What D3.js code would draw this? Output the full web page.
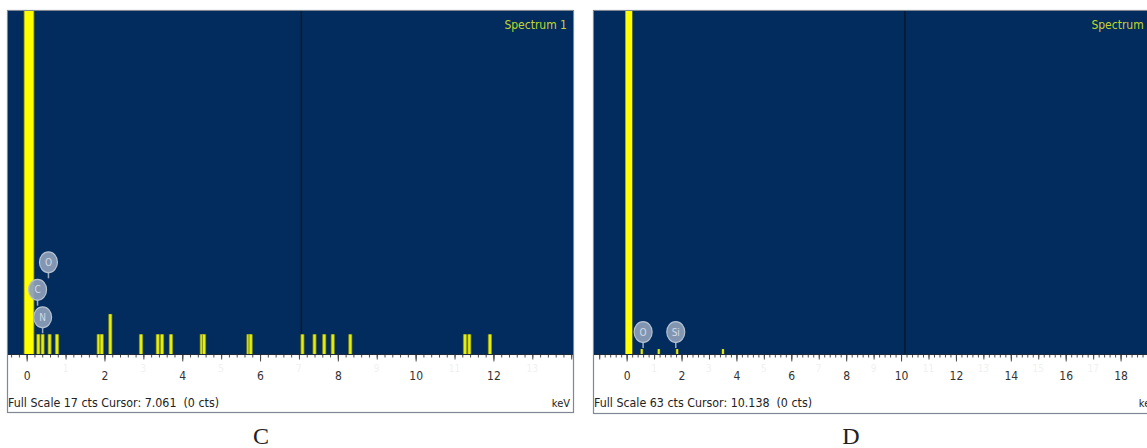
<!DOCTYPE html>
<html>
<head>
<meta charset="utf-8">
<script src="https://cdn.jsdelivr.net/npm/d3@7"></script>
<style>
  body { margin: 0; background: #fff; }
  svg { display: block; }
</style>
</head>
<body>
<div id="chart"></div>
<script>
// Panel C spectrum
const cFullScale = 17;
const cCursor = 7.061;
const cPeakEnergies = [0.06, 0.30, 0.41, 0.59, 0.78, 1.85, 1.93, 2.15, 2.94, 3.37, 3.48, 3.71,
  4.50, 4.56, 5.70, 5.76, 7.09, 7.40, 7.65, 7.87, 8.32, 11.27, 11.38, 11.91];
const cPeakCounts = [60, 1, 1, 1, 1, 1, 1, 2, 1, 1, 1, 1, 1, 1, 1, 1, 1, 1, 1, 1, 1, 1, 1, 1];
const cElements = ["N", "C", "O"];
const cElementEnergies = [0.41, 0.28, 0.56];
const cTickLabels = [0, 2, 4, 6, 8, 10, 12];

// Panel D spectrum
const dFullScale = 63;
const dCursor = 10.138;
const dPeakEnergies = [0.08, 0.55, 1.17, 1.84, 3.51];
const dPeakCounts = [90, 1, 1, 1, 1];
const dElements = ["O", "Si"];
const dElementEnergies = [0.60, 1.79];
const dTickLabels = [0, 2, 4, 6, 8, 10, 12, 14, 16, 18];

const width = 1147;
const height = 448;
const plotTop = 11;
const baseline = 354.5;

const svg = d3.select("#chart")
  .append("svg")
  .attr("width", width)
  .attr("height", height);

const defs = svg.append("defs");

const peakGrad = defs.append("linearGradient")
  .attr("id", "peak-grad")
  .attr("x1", "0").attr("x2", "1").attr("y1", "0").attr("y2", "0");
peakGrad.append("stop").attr("offset", "0%").attr("stop-color", "#56651e");
peakGrad.append("stop").attr("offset", "35%").attr("stop-color", "#e4ee10");
peakGrad.append("stop").attr("offset", "65%").attr("stop-color", "#e4ee10");
peakGrad.append("stop").attr("offset", "100%").attr("stop-color", "#56651e");

const bigGrad = defs.append("linearGradient")
  .attr("id", "big-grad")
  .attr("x1", "0").attr("x2", "1").attr("y1", "0").attr("y2", "0");
bigGrad.append("stop").attr("offset", "0%").attr("stop-color", "#6b6f10");
bigGrad.append("stop").attr("offset", "15%").attr("stop-color", "#ffff00");
bigGrad.append("stop").attr("offset", "85%").attr("stop-color", "#ffff00");
bigGrad.append("stop").attr("offset", "100%").attr("stop-color", "#6b6f10");

const narrow = "'Liberation Sans Narrow', 'DejaVu Sans Condensed', 'Liberation Sans', sans-serif";

function drawPanel(p) {
  const g = svg.append("g");

  const x = d3.scaleLinear().domain(p.domain).range([p.left + 1, p.right - 1]);
  const y = d3.scaleLinear().domain([0, p.fullScale]).range([baseline, plotTop]);

  // white panel + frame
  g.append("rect")
    .attr("x", p.left + 0.5).attr("y", 10.5)
    .attr("width", p.right - p.left).attr("height", p.bottom - 10)
    .attr("fill", "#fff")
    .attr("stroke", "#7f8894")
    .attr("stroke-width", 1.2);

  const clipId = "clip-" + p.name;
  defs.append("clipPath").attr("id", clipId)
    .append("rect")
    .attr("x", p.left + 1).attr("y", plotTop)
    .attr("width", p.right - p.left - 1).attr("height", baseline - plotTop);

  const plot = g.append("g").attr("clip-path", `url(#${clipId})`);

  plot.append("rect")
    .attr("x", p.left + 1).attr("y", plotTop)
    .attr("width", p.right - p.left - 1).attr("height", baseline - plotTop)
    .attr("fill", "#022c5d");

  // cursor
  plot.append("line")
    .attr("x1", x(p.cursor)).attr("x2", x(p.cursor))
    .attr("y1", plotTop).attr("y2", baseline)
    .attr("stroke", "#0a1a33")
    .attr("stroke-width", 1.6);

  // peaks
  const peaks = p.energies.map((e, i) => ({ e, c: p.counts[i], big: i === 0 }));
  const half = d => d.big ? 0.14 : 0.055;
  plot.selectAll("rect.peak")
    .data(peaks)
    .join("rect")
    .attr("class", "peak")
    .attr("x", d => x(d.e - half(d)))
    .attr("width", d => x(d.e + half(d)) - x(d.e - half(d)))
    .attr("y", d => y(d.c))
    .attr("height", d => baseline - y(d.c))
    .attr("fill", d => d.big ? "url(#big-grad)" : "url(#peak-grad)");

  // element labels
  const placed = [];
  p.elements.forEach((el, i) => {
    const e = p.elementEnergies[i];
    const nearest = d3.least(peaks.slice(1), d => Math.abs(d.e - e));
    let level = 0;
    placed.forEach(q => {
      if (Math.abs(x(q.e) - x(e)) < 18) level = Math.max(level, q.level + 1);
    });
    placed.push({ e, level });
    const top = y(nearest.c);
    const cy = top - 17 - level * 27.5;
    const lab = plot.append("g");
    lab.append("line")
      .attr("x1", x(e)).attr("x2", x(e))
      .attr("y1", cy + 9).attr("y2", cy + 16)
      .attr("stroke", "#9aabc2").attr("stroke-width", 1.5);
    lab.append("ellipse")
      .attr("cx", x(e)).attr("cy", cy)
      .attr("rx", 9).attr("ry", 10.5)
      .attr("fill", "#8d9fba")
      .attr("fill-opacity", 0.92)
      .attr("stroke", "#b4c1d3").attr("stroke-width", 1.2);
    lab.append("text")
      .attr("x", x(e)).attr("y", cy)
      .attr("dy", "0.36em")
      .attr("text-anchor", "middle")
      .attr("fill", "#d3dbe6")
      .style("font-family", narrow)
      .style("font-size", "10px")
      .text(el);
  });

  // "Spectrum 1"
  plot.append("text")
    .attr("x", p.right - 6).attr("y", 29)
    .attr("text-anchor", "end")
    .attr("fill", "#c3d62e")
    .style("font-family", narrow)
    .style("font-size", "12px")
    .text("Spectrum 1");

  // axis ticks
  const lo = Math.ceil(p.domain[0] * 5), hi = Math.floor(p.domain[1] * 5);
  const minor = d3.range(lo, hi + 1).map(i => i / 5);
  const units = d3.range(Math.ceil(p.domain[0]), Math.floor(p.domain[1]) + 1);
  const odd = units.filter(v => v > 0 && v % 2 === 1 && x(v) < width - 8);

  const axisG = g.append("g").attr("transform", `translate(0,${baseline})`);
  axisG.append("g").call(d3.axisBottom(x).tickValues(minor).tickSize(3).tickFormat(""));
  axisG.append("g").call(d3.axisBottom(x).tickValues(units).tickSize(5).tickFormat(""));
  const major = axisG.append("g").call(d3.axisBottom(x).tickValues(p.ticks).tickSize(7).tickPadding(10).tickFormat(d3.format("d")));
  axisG.selectAll(".domain").remove();
  axisG.selectAll(".tick line").attr("stroke", "#4a4a4a").attr("stroke-width", 1);
  major.selectAll(".tick text")
    .attr("fill", "#333")
    .style("font-family", narrow)
    .style("font-size", "12px");

  // faint odd labels
  axisG.append("g").selectAll("text")
    .data(odd)
    .join("text")
    .attr("x", d => x(d)).attr("y", 17)
    .attr("text-anchor", "middle")
    .attr("fill", "#f1f1f1")
    .style("font-family", narrow)
    .style("font-size", "10px")
    .text(d => d);

  g.append("line")
    .attr("x1", p.left + 1).attr("x2", p.right)
    .attr("y1", baseline).attr("y2", baseline)
    .attr("stroke", "#1d2a3a").attr("stroke-width", 1);

  // status text
  g.append("text")
    .attr("x", p.left + 1).attr("y", 407)
    .attr("fill", "#222")
    .style("font-family", narrow)
    .style("font-size", "12px")
    .style("white-space", "pre")
    .attr("textLength", p.statusWidth)
    .attr("lengthAdjust", "spacingAndGlyphs")
    .text(`Full Scale ${p.fullScale} cts Cursor: ${p.cursor.toFixed(3)}  (0 cts)`);

  g.append("text")
    .attr("x", p.right - 3).attr("y", 407)
    .attr("text-anchor", "end")
    .attr("fill", "#222")
    .style("font-family", narrow)
    .style("font-size", "11px")
    .text("keV");

  // panel letter
  svg.append("text")
    .attr("x", p.letterX).attr("y", 444)
    .attr("text-anchor", "middle")
    .attr("fill", "#222")
    .style("font-family", "'Liberation Serif', 'DejaVu Serif', serif")
    .style("font-size", "24px")
    .text(p.letter);
}

drawPanel({
  name: "c", left: 7, right: 573, bottom: 412,
  domain: [-0.48, 14.02],
  fullScale: cFullScale, cursor: cCursor,
  energies: cPeakEnergies, counts: cPeakCounts,
  elements: cElements, elementEnergies: cElementEnergies,
  ticks: cTickLabels, statusWidth: 211,
  letter: "C", letterX: 261
});

drawPanel({
  name: "d", left: 593, right: 1160, bottom: 413,
  domain: [-1.19, 19.4],
  fullScale: dFullScale, cursor: dCursor,
  energies: dPeakEnergies, counts: dPeakCounts,
  elements: dElements, elementEnergies: dElementEnergies,
  ticks: dTickLabels, statusWidth: 218,
  letter: "D", letterX: 851
});
</script>
</body>
</html>
